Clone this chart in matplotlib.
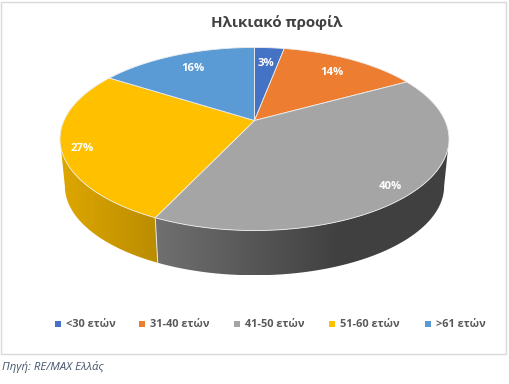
import numpy as np
import matplotlib
matplotlib.use("Agg")
import matplotlib.pyplot as plt
from matplotlib.patches import Polygon, Rectangle

plt.rcParams['font.family'] = ['Open Sans', 'DejaVu Sans']

# data
labels = ['<30 ετών', '31-40 ετών', '41-50 ετών', '51-60 ετών', '>61 ετών']
values = [3, 14, 40, 27, 16]
colors = ['#4472C4', '#ED7D31', '#A5A5A5', '#FFC000', '#5B9BD5']
title = 'Ηλικιακό προφίλ'
source = 'Πηγή: RE/MAX Ελλάς'

# pie projection, in pixels of the figure
CX, CY = 254.5, 120.5
A, B, K = 190.5, 87.8, 0.202
DEPTH, SHRINK = 47.5, 0.975
W, H = 509, 384


def rim(theta, bottom=False):
    # theta is clockwise from the top of the pie, in radians
    u, v = np.sin(theta), np.cos(theta)
    w = 1 + K * v
    x, y = A * u / w, -B * v / w
    if bottom:
        return CX + SHRINK * x, CY + DEPTH + SHRINK * y
    return CX + x, CY + y


fig = plt.figure(figsize=(W / 100, H / 100), dpi=100)
ax = fig.add_axes([0, 0, 1, 1])
ax.set_xlim(0, W)
ax.set_ylim(H, 0)
ax.axis('off')

# chart frame
ax.add_patch(Rectangle((1.5, 1.5), 505, 352, fc='white', ec='#D9D9D9', lw=1))

edges = 2 * np.pi * np.cumsum([0] + values) / sum(values)

# leftmost and rightmost points of the projected rim
side = np.arccos(-K)

# side wall: only the front part of each slice shows
side_shades = {2: (0.68, 0.39), 3: (0.87, 0.73)}
for i, (f0, f1) in side_shades.items():
    t0 = max(edges[i], side)
    t1 = min(edges[i + 1], 2 * np.pi - side)
    th = np.linspace(t0, t1, 200)
    xt, yt = rim(th)
    xb, yb = rim(th, bottom=True)
    pts = np.column_stack([np.r_[xt, xb[::-1]], np.r_[yt, yb[::-1]]])
    poly = Polygon(pts, fc='none', ec='none')
    ax.add_patch(poly)
    c = np.array(matplotlib.colors.to_rgb(colors[i]))
    x0, x1 = pts[:, 0].min(), pts[:, 0].max()
    if i == 2:
        # light at the left, dark from the middle on
        ramp = np.clip(np.linspace(0, 1.6, 256), 0, 1)
    else:
        ramp = np.linspace(0, 1, 256)
    grad = (f0 + (f1 - f0) * ramp)[None, :, None] * c[None, None, :]
    im = ax.imshow(grad, extent=[x0, x1, pts[:, 1].max(), pts[:, 1].min()],
                   aspect='auto', zorder=1, interpolation='bilinear')
    im.set_clip_path(poly)

ax.set_xlim(0, W)
ax.set_ylim(H, 0)

# thin light line between the two side walls
xa, ya = rim(edges[3])
xb_, yb_ = rim(edges[3], bottom=True)
ax.plot([xa, xb_], [ya, yb_], color='#E8E8E8', lw=0.7, zorder=2)

# top face
for i in range(len(values)):
    th = np.linspace(edges[i], edges[i + 1], 120)
    xt, yt = rim(th)
    pts = np.column_stack([np.r_[CX, xt], np.r_[CY, yt]])
    ax.add_patch(Polygon(pts, fc=colors[i], ec='#EDEDED', lw=0.6, zorder=3,
                         joinstyle='round'))

# percent labels, placed along each slice then nudged
label_r = [0.78, 0.76, 0.90, 0.93, 0.76]
label_dx = [-1, 2, -7, 7, 0]
label_dy = [2, 0, 4, 4, 0]
for i, v in enumerate(values):
    mid = (edges[i] + edges[i + 1]) / 2
    u, w = np.sin(mid), np.cos(mid)
    d = 1 + K * w * label_r[i]
    x = CX + A * u * label_r[i] / d + label_dx[i]
    y = CY - B * w * label_r[i] / d + label_dy[i]
    ax.text(x, y, f'{v}%', color='white', fontsize=8.2, fontweight='bold',
            ha='center', va='center', zorder=4)

ax.text(277, 23, title, color='#404040', fontsize=10.9, fontweight='bold',
        ha='center', va='center')

# legend
legend_x = [55.5, 139.5, 234.5, 329.5, 425]
for x, lab, c in zip(legend_x, labels, colors):
    ax.add_patch(Rectangle((x, 321), 6, 6, fc=c, ec='none'))
    ax.text(x + 11, 324.3, lab, color='#595959', fontsize=7.9, fontweight='bold',
            ha='left', va='center')

ax.text(2, 367, source, color='#44546A', fontsize=8.2, style='italic',
        ha='left', va='center')

fig.savefig('out.png', dpi=100)
